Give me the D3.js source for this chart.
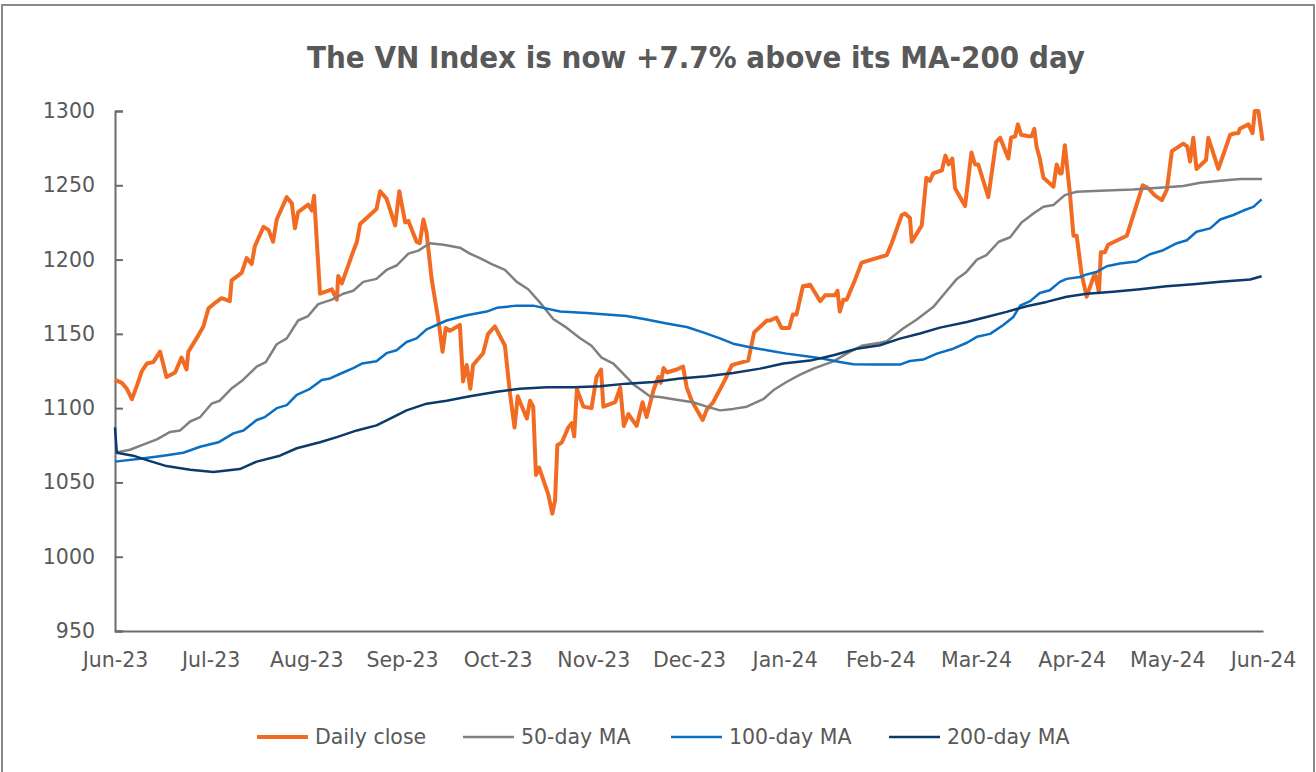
<!DOCTYPE html>
<html>
<head>
<meta charset="utf-8">
<script src="https://cdn.jsdelivr.net/npm/d3@7"></script>
<style>
  body { margin: 0; background: #fff; }
  svg { display: block; font-family: "DejaVu Sans", Verdana, sans-serif; }
</style>
</head>
<body>
<div id="chart"></div>
<script>
var width = 1316;
var height = 772;

// x values are trading-day positions (0 = start of Jun-23, 252 = Jun-24)
var monthLabels = ['Jun-23', 'Jul-23', 'Aug-23', 'Sep-23', 'Oct-23', 'Nov-23', 'Dec-23',
    'Jan-24', 'Feb-24', 'Mar-24', 'Apr-24', 'May-24', 'Jun-24'];
var daysPerMonth = 21;
var yTicks = [950, 1000, 1050, 1100, 1150, 1200, 1250, 1300];

var dailyClose = [
    [0,1119],[1.5,1117],[2.6,1113],[3.7,1106],[4.8,1115],[5.9,1125],[7,1130],[8.4,1131],[9.9,1138],
    [11.3,1121],[13.2,1124],[14.6,1134],[15.7,1126],[16.1,1138],[18.3,1149],[19.4,1155],[20.5,1167],
    [21.6,1170],[23.4,1174],[25.2,1172],[25.6,1186],[27.8,1191],[28.9,1201],[30,1197],[30.7,1209],
    [32.6,1222],[33.7,1220],[34.7,1212],[35.5,1227],[37.7,1242],[38.8,1238],[39.5,1221],[40.2,1232],
    [42.4,1237],[43.2,1233],[43.7,1243],[45,1177],[47.6,1180],[48.7,1173],[49,1189],[49.8,1184],
    [52,1203],[53.1,1212],[53.8,1224],[57.4,1234],[58.2,1246],[59.6,1241],[61.5,1223],[62.4,1246],
    [63.7,1225],[64.4,1226],[66.2,1212],[66.9,1211],[67.7,1227],[68.4,1218],[69.5,1187],[71,1159],
    [71.9,1138],[72.6,1154],[73.5,1152],[75.7,1156],[76.4,1118],[77.2,1129],[78,1113],[78.6,1129],
    [80.8,1137],[81.9,1150],[83.4,1155],[85.6,1142],[86.7,1110],[87.7,1087],[88.4,1108],[90.4,1093],
    [91.1,1105],[91.8,1101],[92.4,1055],[93.1,1060],[95.1,1042],[96,1029],[96.6,1038],[97.1,1075],
    [98.1,1077],[99.5,1087],[100.3,1090],[100.8,1081],[101.4,1113],[102.8,1101],[104.6,1100],
    [105.7,1121],[106.7,1126],[107.2,1101],[109.8,1104],[110.9,1114],[111.7,1088],[112.7,1096],
    [114.5,1088],[115.8,1104],[116.7,1094],[118.2,1112],[119.3,1121],[119.8,1117],[120.4,1127],
    [121.2,1124],[122.2,1125],[123.3,1126],[124.7,1128],[125.5,1114],[126.6,1105],[129,1092],
    [129.9,1099],[131.3,1104],[133.9,1119],[135.4,1129],[136.5,1130],[139,1132],[140.3,1151],
    [143.1,1159],[143.8,1159],[145.2,1161],[146.3,1154],[148,1154],[148.8,1163],[149.6,1163],
    [151,1182],[152.6,1183],[154.8,1172],[155.9,1176],[158,1176],[158.6,1179],[159.1,1165],
    [159.9,1173],[160.6,1173],[162.4,1186],[163.9,1198],[169.4,1203],[170.5,1211],[172.7,1230],
    [173.4,1231],[174.5,1228],[174.9,1212],[177.1,1223],[178.1,1255],[178.9,1253],[179.6,1258],
    [181.5,1260],[182.3,1270],[183,1264],[183.8,1268],[184.4,1248],[186.6,1236],[188,1272],
    [188.8,1264],[189.5,1264],[191.7,1242],[193.4,1279],[194.3,1282],[196.1,1268],[196.7,1282],
    [197.6,1283],[198.2,1291],[198.9,1284],[200.5,1283],[201.2,1283],[201.8,1288],[202.3,1276],
    [203,1268],[203.8,1255],[206,1249],[206.7,1264],[207.4,1258],[207.8,1258],[208.5,1277],
    [209.6,1245],[210.4,1216],[211.1,1216],[212.2,1190],[213.3,1175],[215.1,1191],[216,1178],
    [216.4,1205],[217.3,1205],[218,1210],[222.1,1216],[225.6,1250],[226.8,1248],[228.3,1243],
    [229.8,1240],[230.9,1247],[232,1273],[234.5,1278],[235.4,1276],[236,1266],[236.7,1282],
    [237.4,1261],[239.5,1267],[240,1282],[242.2,1261],[244.8,1284],[245.9,1285],[246.6,1285],
    [246.9,1288],[248.8,1291],[249.7,1285],[250.2,1300],[251,1300],[251.9,1280]
];

var ma50 = [
    [0,1070],[3.3,1072],[6.6,1076],[9.2,1079],[12.1,1084],[14.3,1085],[16.5,1091],[18.7,1094],
    [21.2,1103],[23,1105],[25.5,1113],[28.1,1119],[31.1,1128],[33.1,1131],[35.5,1143],[37.7,1147],
    [40.2,1159],[42.4,1162],[44.6,1170],[47.6,1173],[50.1,1177],[52.3,1179],[54.5,1185],[57.4,1187],
    [59.6,1193],[61.8,1196],[64.4,1204],[66.6,1206],[69.1,1211],[72.1,1210],[75.7,1208],[77.9,1204],
    [80.1,1201],[82.7,1197],[85.6,1193],[88.2,1185],[90.7,1180],[93.3,1171],[96.2,1160],[99.2,1154],
    [102.1,1147],[104.6,1142],[106.8,1134],[109.4,1130],[111.6,1123],[113.8,1116],[115.6,1112],
    [117.4,1108],[119.6,1107.5],[122.6,1106],[124.7,1105],[126.9,1104],[129.9,1101],[132.8,1098.5],
    [135.7,1099.5],[138.7,1101],[142.3,1106],[144.5,1112],[147.4,1117.6],[150.4,1122.5],
    [153.3,1126.6],[157.7,1131.5],[160.6,1136.7],[163.9,1142],[167.9,1144],[169.4,1145],
    [173,1153.6],[176,1159.7],[179.6,1168],[182.6,1179],[184.8,1187],[186.9,1191.7],[189.2,1200],
    [191.3,1203],[194,1212],[196.5,1215],[199,1225],[201.6,1231],[203.8,1235.5],[206,1236.7],
    [208.5,1243.4],[211.1,1245.6],[216.2,1246.3],[223.5,1247.2],[230.8,1248.6],[234.5,1249.5],
    [238.2,1251.7],[242.6,1253.1],[247,1254.2],[251.8,1254.2]
];

var ma100 = [
    [0,1064],[5.5,1066],[10.6,1068],[15,1070],[18.7,1074],[22.7,1077],[26,1083],[28.2,1085],
    [31.1,1092],[32.9,1094],[35.5,1100],[37.7,1102],[39.9,1109],[42.8,1113],[45.4,1119],[47.2,1120],
    [50.1,1124],[52.3,1127],[54.2,1130],[57.4,1131.5],[59.6,1137],[61.8,1139],[64,1144.5],
    [66.2,1147],[68.4,1153],[72.8,1159],[77.2,1162.5],[81.6,1165],[83.8,1167.5],[88.2,1169],
    [91.8,1169],[94.8,1167],[97.7,1165],[103.5,1164],[107.9,1163],[112.3,1162],[116.7,1159.6],
    [121.1,1157],[125.5,1154.6],[129.1,1151],[132.8,1147],[135.7,1143.4],[139.4,1141],
    [143.1,1139],[147.4,1136.7],[151.8,1135],[155.5,1133.3],[159.1,1131],[162.1,1129.5],
    [166.5,1129.3],[172.3,1129.3],[174.5,1131.7],[177.4,1132.7],[180.4,1136.7],[184,1140],
    [187,1144],[189.2,1148],[192.1,1150],[195,1156],[197.2,1161.4],[198.7,1169],[200.9,1172],
    [203,1177.5],[205.2,1179.4],[207.4,1185],[208.9,1187],[211.8,1188.3],[213.3,1190],
    [215.5,1191.7],[217.7,1195.5],[220.6,1197.4],[224.3,1198.7],[227.2,1203.6],[230.1,1206.3],
    [233.1,1211],[235.3,1213],[237.4,1218.7],[240.4,1221],[242.6,1227],[245.5,1230],[247.7,1233],
    [249.9,1235.5],[251.7,1240.5]
];

var ma200 = [
    [0,1087],[0.4,1070],[4,1068],[7,1065],[11.3,1061],[16.5,1058.5],[21.6,1057],[27.4,1059],
    [31.1,1064],[36.2,1068],[39.9,1073],[45,1077],[48.7,1080.5],[53.1,1085],[57.4,1088.4],
    [60.4,1093],[64,1098.5],[68.4,1103],[72.8,1105],[77.9,1108],[83.8,1111],[88.9,1113],
    [94.8,1114],[100.6,1114],[106.5,1114.7],[112.3,1116.5],[118.2,1117.6],[124,1120],
    [129.9,1121.4],[135.7,1123.6],[141.6,1126.6],[146.7,1130],[152.6,1132],[157.7,1135.6],
    [162.8,1140],[167.9,1142.3],[172.3,1146.8],[176.7,1150.2],[181.1,1154.2],[187,1158],
    [191.3,1161.4],[195.7,1164.8],[200.1,1168.6],[204.5,1171.5],[208.9,1175],[213.3,1177],
    [219.1,1178.3],[225,1180],[230.8,1182],[236.7,1183.4],[242.6,1185],[249.2,1186.6],[251.7,1188.8]
];

var seriesNames = ['Daily close', '50-day MA', '100-day MA', '200-day MA'];
var seriesColors = ['#f26b22', '#808080', '#0a6fc2', '#0b3a6b'];
var seriesWidths = [4, 2.5, 2.5, 2.5];
var allSeries = [dailyClose, ma50, ma100, ma200];

var textColor = '#595959';

var svg = d3.select('#chart')
    .append('svg')
    .attr('width', width)
    .attr('height', height);

svg.append('rect')
    .attr('width', width)
    .attr('height', height)
    .attr('fill', '#fff');

// chart-area border (bottom edge is outside the picture)
svg.append('path')
    .attr('d', 'M2,' + (height + 5) + 'V5H1314V' + (height + 5))
    .attr('fill', 'none')
    .attr('stroke', '#8a8a8a')
    .attr('stroke-width', 2);

svg.append('text')
    .attr('x', 696)
    .attr('y', 68)
    .attr('text-anchor', 'middle')
    .attr('font-size', 30)
    .attr('font-weight', 'bold')
    .attr('fill', textColor)
    .attr('textLength', 778)
    .attr('lengthAdjust', 'spacingAndGlyphs')
    .text('The VN Index is now +7.7% above its MA-200 day');

var xScale = d3.scaleLinear()
    .domain([0, daysPerMonth * (monthLabels.length - 1)])
    .range([115, 1263]);

var yScale = d3.scaleLinear()
    .domain([950, 1300])
    .range([631, 111]);

var yAxis = d3.axisLeft(yScale)
    .tickValues(yTicks)
    .tickSize(-8)
    .tickPadding(20)
    .tickFormat(d3.format('d'));

var gy = svg.append('g')
    .attr('transform', 'translate(115,0)')
    .call(yAxis);
gy.select('.domain').attr('stroke', '#6b6b6b').attr('stroke-width', 2);
gy.selectAll('.tick line').attr('stroke', '#6b6b6b').attr('stroke-width', 2);
gy.selectAll('text')
    .attr('fill', textColor)
    .attr('font-size', 20.5)
    .attr('font-family', '"DejaVu Sans", sans-serif');

var xAxis = d3.axisBottom(xScale)
    .tickValues(monthLabels.map((d, i) => i * daysPerMonth))
    .tickSize(0)
    .tickPadding(21)
    .tickFormat((d, i) => monthLabels[i]);

var gx = svg.append('g')
    .attr('transform', 'translate(0,631)')
    .call(xAxis);
gx.select('.domain').attr('stroke', '#6b6b6b').attr('stroke-width', 2);
gx.selectAll('text')
    .attr('fill', textColor)
    .attr('font-size', 20.5)
    .attr('font-family', '"DejaVu Sans", sans-serif');

var line = d3.line()
    .x((d) => xScale(d[0]))
    .y((d) => yScale(d[1]));

svg.append('g')
    .selectAll('path')
    .data(allSeries)
    .enter()
    .append('path')
    .attr('d', line)
    .attr('fill', 'none')
    .attr('stroke', (d, i) => seriesColors[i])
    .attr('stroke-width', (d, i) => seriesWidths[i])
    .attr('stroke-linejoin', 'round');

// legend
var legendX = [257, 463, 671, 889];
var legend = svg.append('g')
    .selectAll('g')
    .data(seriesNames)
    .enter()
    .append('g')
    .attr('transform', (d, i) => `translate(${legendX[i]}, 737)`);

legend.append('line')
    .attr('x1', 0)
    .attr('x2', 51)
    .attr('stroke', (d, i) => seriesColors[i])
    .attr('stroke-width', (d, i) => seriesWidths[i]);

legend.append('text')
    .attr('x', 58)
    .attr('dy', '0.36em')
    .attr('font-size', 20.5)
    .attr('fill', textColor)
    .text((d) => d);
</script>
</body>
</html>
